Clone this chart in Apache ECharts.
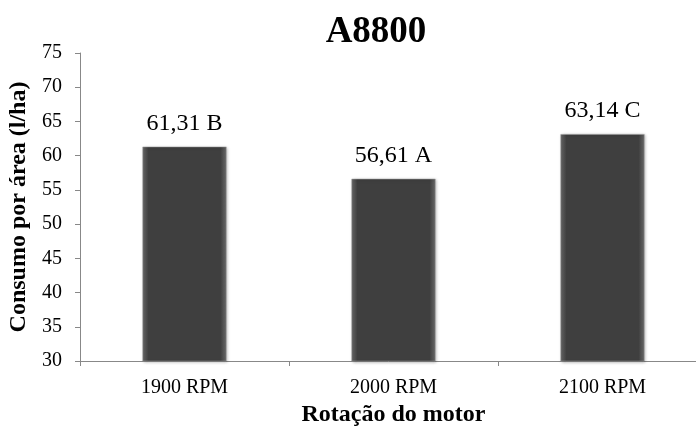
<!DOCTYPE html>
<html><head><meta charset="utf-8">
<script src="https://cdn.jsdelivr.net/npm/echarts@6/dist/echarts.min.js"></script>
<style>html,body{margin:0;padding:0;background:#fff}#c{width:696px;height:430px}</style>
</head><body><div id="c"></div>
<script>
const categories = ['1900 RPM', '2000 RPM', '2100 RPM'];
const values = [61.31, 56.61, 63.14];
const letters = ['B', 'A', 'C'];
const yTicks = {min: 30, max: 75, interval: 5};

const font = '"Liberation Serif", "Times New Roman", serif';
const chart = echarts.init(document.getElementById('c'));
chart.setOption({
  animation: false,
  backgroundColor: '#fff',
  title: {
    text: 'A8800', left: 371, top: 9, textAlign: 'center',
    textStyle: {fontFamily: font, fontWeight: 'bold', fontSize: 37, color: '#000'}
  },
  grid: {left: 80, right: -11, top: 53, bottom: 69, outerBoundsMode: 'none', containLabel: false},
  xAxis: {
    type: 'category', data: categories,
    name: 'Rotação do motor', nameLocation: 'middle', nameGap: 38,
    nameTextStyle: {fontFamily: font, fontWeight: 'bold', fontSize: 24, color: '#000'},
    axisLine: {lineStyle: {color: '#888', width: 1}},
    axisTick: {show: true, length: 5, lineStyle: {color: '#888'}},
    axisLabel: {fontFamily: font, fontSize: 20, color: '#000', margin: 17}
  },
  yAxis: {
    type: 'value', min: yTicks.min, max: yTicks.max, interval: yTicks.interval,
    name: 'Consumo por área (l/ha)', nameLocation: 'middle', nameGap: 44, nameRotate: 90,
    nameTextStyle: {fontFamily: font, fontWeight: 'bold', fontSize: 24, color: '#000'},
    axisLine: {show: true, lineStyle: {color: '#888', width: 1}},
    axisTick: {show: true, length: 5, lineStyle: {color: '#888'}},
    axisLabel: {fontFamily: font, fontSize: 20, color: '#000', margin: 18},
    splitLine: {show: false}
  },
  series: [{
    type: 'bar', barWidth: 84,
    data: values,
    itemStyle: {
      color: new echarts.graphic.LinearGradient(0, 0, 1, 0, [
        {offset: 0, color: '#6a6a6a'}, {offset: 0.07, color: '#3f3f3f'},
        {offset: 0.93, color: '#3f3f3f'}, {offset: 1, color: '#6a6a6a'}
      ]),
      borderColor: '#9a9a9a', borderWidth: 0.5,
      shadowColor: 'rgba(0,0,0,0.35)', shadowBlur: 3, shadowOffsetX: 1, shadowOffsetY: 1
    },
    label: {
      show: true, position: 'top', distance: 11,
      fontFamily: font, fontSize: 24, color: '#000',
      formatter: p => p.value.toFixed(2).replace('.', ',') + ' ' + letters[p.dataIndex]
    }
  }]
});
</script></body></html>
